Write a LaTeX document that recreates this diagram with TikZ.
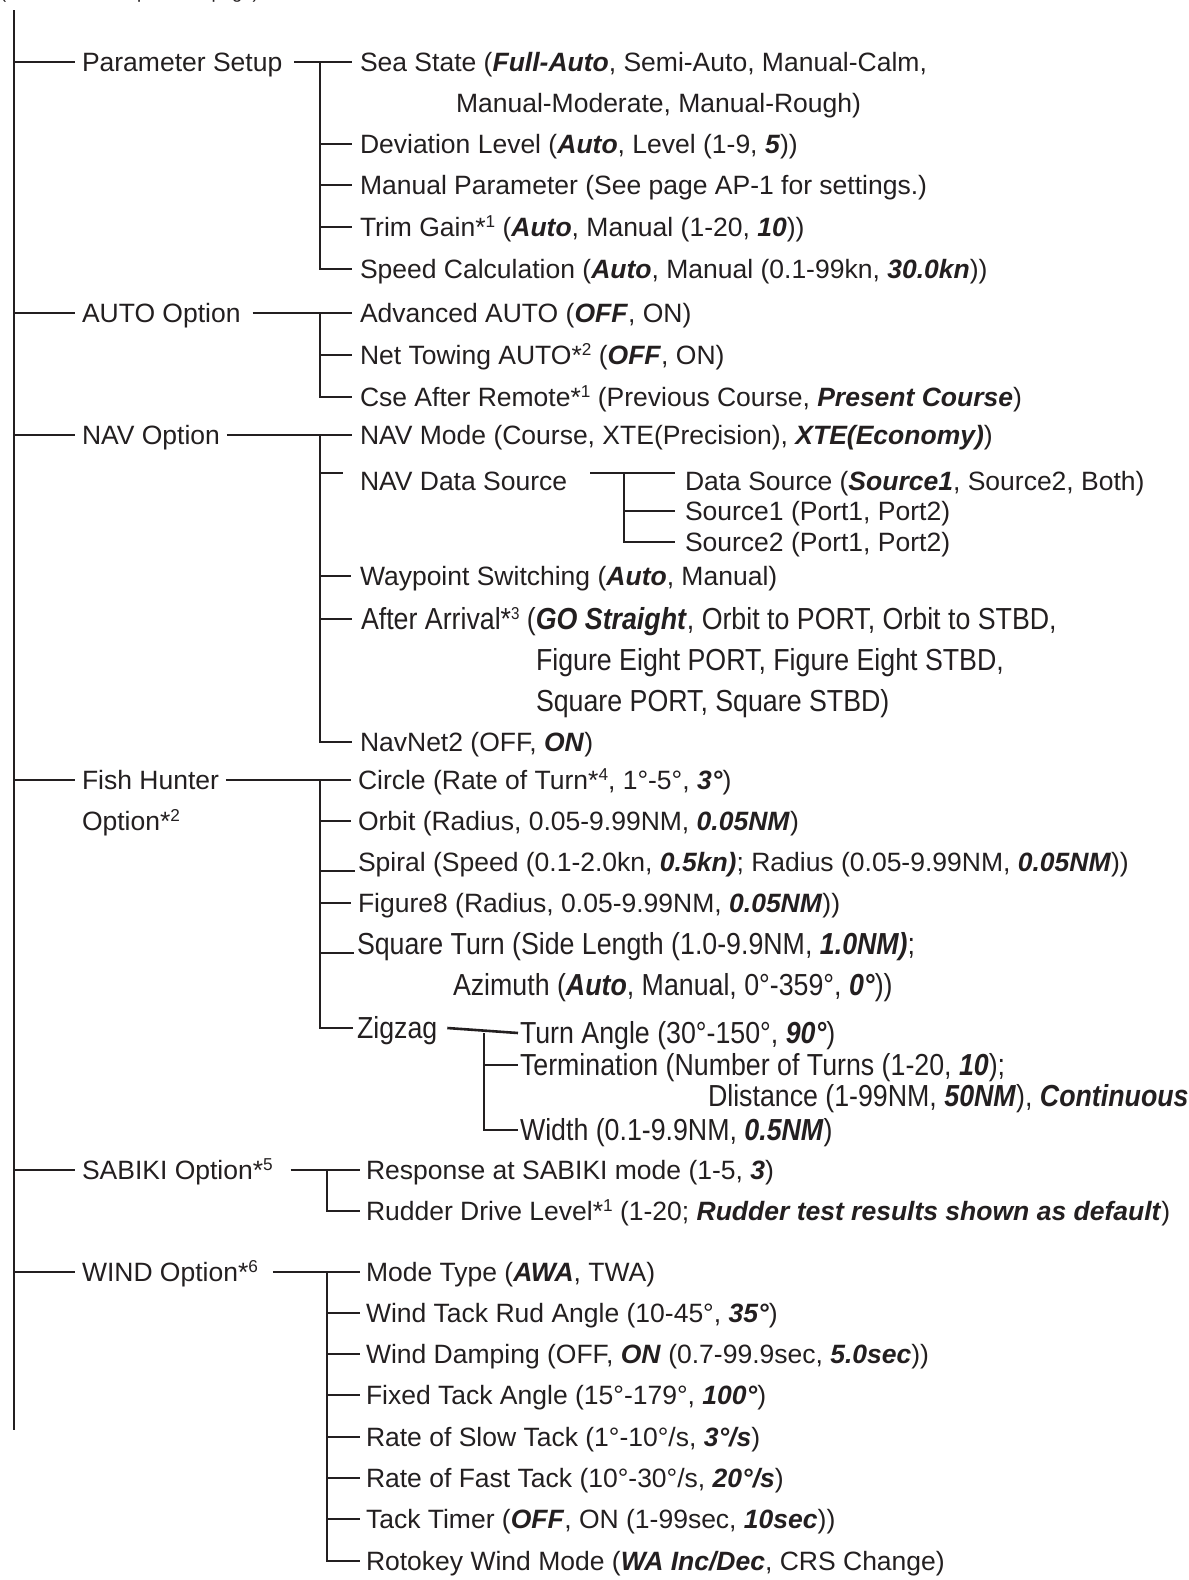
\documentclass[tikz,border=0pt]{standalone}
\usepackage{fontspec}
\setmainfont{Liberation Sans}
\newfontfamily\narrowfont[FakeStretch=0.88]{Liberation Sans}
\usetikzlibrary{calc}
\definecolor{ink}{HTML}{231F20}
\newcommand{\bi}[1]{\textbf{\textit{#1}}}
\newcommand{\sus}[1]{\raisebox{0.62ex}{\fontsize{8.6}{9}\selectfont #1}}
\begin{document}
\begin{tikzpicture}[x=0.5pt,y=-0.5pt,
  every node/.style={inner sep=0pt, outer sep=0pt, text=ink, anchor=west,
    text height=9.5pt, text depth=0pt, font=\fontsize{13.25}{15}\selectfont},
  narrow/.style={font=\narrowfont\fontsize{15.2}{17}\selectfont, text height=10.8pt},
  link/.style={draw=ink, line width=1.3pt}]
\useasboundingbox (0,0) rectangle (1189,1580);
\clip (0,0) rectangle (1189,1580);
\fill[white] (0,0) rectangle (1189,1580);

% heading (cut off at the top)
\node[anchor=base west, text height=7pt, text depth=2pt, font=\fontsize{9.2}{11}\selectfont] (cont) at (0,-2) {(Continued from previous page)};

% level 1
\node (ps)   at (82,62)   {Parameter Setup};
\node (auto) at (82,313)  {AUTO Option};
\node (nav)  at (82,435)  {NAV Option};
\node (fish) at (82,780)  {Fish Hunter};
\node (fish2) at (82,821) {Option*\sus{2}};
\node (sab)  at (82,1170) {SABIKI Option*\sus{5}};
\node (wind) at (82,1272) {WIND Option*\sus{6}};

% Parameter Setup
\node (sea)  at (360,62)  {Sea State (\bi{Full-Auto}, Semi-Auto, Manual-Calm,};
\node (sea2) at (456,103) {Manual-Moderate, Manual-Rough)};
\node (dev)  at (360,144) {Deviation Level (\bi{Auto}, Level (1-9, \bi{5}))};
\node (man)  at (360,185) {Manual Parameter (See page AP-1 for settings.)};
\node (trim) at (360,227) {Trim Gain*\sus{1} (\bi{Auto}, Manual (1-20, \bi{10}))};
\node (spd)  at (360,269) {Speed Calculation (\bi{Auto}, Manual (0.1-99kn, \bi{30.0kn}))};

% AUTO Option
\node (adv) at (360,313) {Advanced AUTO (\bi{OFF}, ON)};
\node (net) at (360,355) {Net Towing AUTO*\sus{2} (\bi{OFF}, ON)};
\node (cse) at (360,397) {Cse After Remote*\sus{1} (Previous Course, \bi{Present Course})};

% NAV Option
\node (navm) at (360,435) {NAV Mode (Course, XTE(Precision), \bi{XTE(Economy)})};
\node (nds)  at (360,481) {NAV Data Source};
\node (ds)   at (685,481) {Data Source (\bi{Source1}, Source2, Both)};
\node (s1)   at (685,511) {Source1 (Port1, Port2)};
\node (s2)   at (685,542) {Source2 (Port1, Port2)};
\node (wps)  at (360,576) {Waypoint Switching (\bi{Auto}, Manual)};
\node[narrow] (aft)  at (361,619) {After Arrival*\sus{3} (\bi{GO Straight}, Orbit to PORT, Orbit to STBD,};
\node[narrow] (aft2) at (536,660) {Figure Eight PORT, Figure Eight STBD,};
\node[narrow] (aft3) at (536,701) {Square PORT, Square STBD)};
\node (nn2)  at (360,742) {NavNet2 (OFF, \bi{ON})};

% Fish Hunter Option
\node (circ) at (358,780) {Circle (Rate of Turn*\sus{4}, 1°-5°, \bi{3°})};
\node (orb)  at (358,821) {Orbit (Radius, 0.05-9.99NM, \bi{0.05NM})};
\node (spi)  at (358,862) {Spiral (Speed (0.1-2.0kn, \bi{0.5kn)}; Radius (0.05-9.99NM, \bi{0.05NM}))};
\node (fig8) at (358,903) {Figure8 (Radius, 0.05-9.99NM, \bi{0.05NM}))};
\node[narrow] (sq)  at (357,944) {Square Turn (Side Length (1.0-9.9NM, \bi{1.0NM)};};
\node[narrow] (sq2) at (453,985) {Azimuth (\bi{Auto}, Manual, 0°-359°, \bi{0°}))};
\node[narrow] (zz)  at (357,1028) {Zigzag};
\node[narrow] (ta)   at (520,1033) {Turn Angle (30°-150°, \bi{90°})};
\node[narrow] (term) at (520,1065) {Termination (Number of Turns (1-20, \bi{10});};
\node[narrow] (dl)   at (708,1096) {Dlistance (1-99NM, \bi{50NM}), \bi{Continuous}};
\node[narrow] (wid)  at (520,1130) {Width (0.1-9.9NM, \bi{0.5NM})};

% SABIKI Option
\node (resp) at (366,1170) {Response at SABIKI mode (1-5, \bi{3})};
\node (rud)  at (366,1211) {Rudder Drive Level*\sus{1} (1-20; \bi{Rudder test results shown as default})};

% WIND Option
\node (mode) at (366,1272) {Mode Type (\bi{AWA}, TWA)};
\node (wtr)  at (366,1313) {Wind Tack Rud Angle (10-45°, \bi{35°})};
\node (wd)   at (366,1354) {Wind Damping (OFF, \bi{ON} (0.7-99.9sec, \bi{5.0sec}))};
\node (fta)  at (366,1395) {Fixed Tack Angle (15°-179°, \bi{100°})};
\node (rst)  at (366,1437) {Rate of Slow Tack (1°-10°/s, \bi{3°/s})};
\node (rft)  at (366,1478) {Rate of Fast Tack (10°-30°/s, \bi{20°/s})};
\node (tt)   at (366,1519) {Tack Timer (\bi{OFF}, ON (1-99sec, \bi{10sec}))};
\node (rot)  at (366,1561) {Rotokey Wind Mode (\bi{WA Inc/Dec}, CRS Change)};

% ---------- connectors ----------
\coordinate (tTop) at (14,10);
\coordinate (tBot) at (14,1430);
\coordinate (v2) at (320,0);
\coordinate (v3) at (327,0);
\coordinate (vds) at (624,0);
\coordinate (vzz) at (484,0);

\draw[link] (tTop) -- (tBot);
\foreach \n in {ps,auto,nav,fish,sab,wind}
  \draw[link] (tTop |- \n.west) -- ($(\n.west)+(-7,0)$);

% Parameter Setup
\draw[link] ($(ps.east)+(12,0)$) -- ($(sea.west)+(-8,0)$);
\draw[link] (v2 |- sea.west) |- ($(spd.west)+(-8,0)$);
\foreach \n in {dev,man,trim}
  \draw[link] (v2 |- \n.west) -- ($(\n.west)+(-8,0)$);

% AUTO Option
\draw[link] ($(auto.east)+(12,0)$) -- ($(adv.west)+(-8,0)$);
\draw[link] (v2 |- adv.west) |- ($(cse.west)+(-8,0)$);
\draw[link] (v2 |- net.west) -- ($(net.west)+(-8,0)$);

% NAV Option
\draw[link] ($(nav.east)+(7,0)$) -- ($(navm.west)+(-8,0)$);
\draw[link] (v2 |- navm.west) |- ($(nn2.west)+(-8,0)$);
\draw[link] ($(v2 |- nds.west)+(0,-8)$) -- ($(nds.west)+(-17,-8)$);
\foreach \n in {wps,aft}
  \draw[link] (v2 |- \n.west) -- ($(\n.west)+(-9,0)$);
\draw[link] ($(nds.east)+(23,-8)$) -- ($(ds.west)+(-10,-8)$);
\draw[link] ($(vds |- ds.west)+(0,-8)$) |- ($(s2.west)+(-10,0)$);
\draw[link] (vds |- s1.west) -- ($(s1.west)+(-10,0)$);

% Fish Hunter Option
\draw[link] ($(fish.east)+(7,0)$) -- ($(circ.west)+(-7,0)$);
\draw[link] (v2 |- circ.west) |- ($(zz.west)+(-4,0)$);
\foreach \n in {orb,fig8}
  \draw[link] (v2 |- \n.west) -- ($(\n.west)+(-7,0)$);
\draw[link] ($(v2 |- spi.west)+(0,9)$) -- ($(spi.west)+(-3,9)$);
\draw[link] ($(v2 |- sq.west)+(0,9)$) -- ($(sq.west)+(-3,9)$);
\draw[link] ($(zz.east)+(10,0)$) -- ($(ta.west)+(-2,0)$);
\draw[link] (vzz |- ta.west) |- ($(wid.west)+(-2,0)$);
\draw[link] (vzz |- term.west) -- ($(term.west)+(-2,0)$);

% SABIKI Option
\draw[link] ($(sab.east)+(18,0)$) -- ($(resp.west)+(-6,0)$);
\draw[link] (v3 |- resp.west) |- ($(rud.west)+(-6,0)$);

% WIND Option
\draw[link] ($(wind.east)+(15,0)$) -- ($(mode.west)+(-6,0)$);
\draw[link] (v3 |- mode.west) |- ($(rot.west)+(-6,0)$);
\foreach \n in {wtr,wd,fta,rst,rft,tt}
  \draw[link] (v3 |- \n.west) -- ($(\n.west)+(-6,0)$);
\end{tikzpicture}
\end{document}
